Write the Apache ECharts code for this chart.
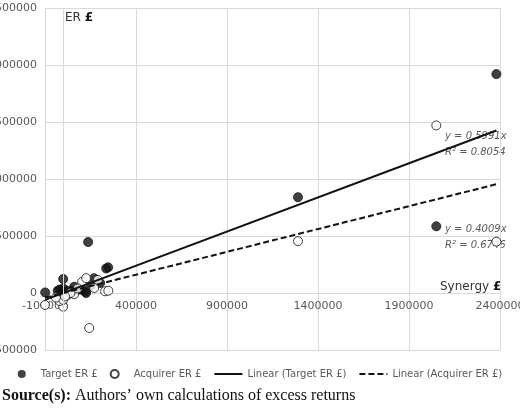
<!DOCTYPE html><html><head><meta charset="utf-8"><script src="https://cdn.jsdelivr.net/npm/echarts@6/dist/echarts.min.js"></script></head><body style="margin:0"><div id="c" style="width:520px;height:410px"></div><script>
const targetER=[[2380000,1920000],[1290000,840000],[2050000,585000],[137000,447000],[236000,215000],[247000,225000],[170000,130000],[0,123000],[-99000,5000],[203000,88000],[121000,10000],[126000,0],[-20000,30000],[0,40000],[20000,20000],[40000,10000],[60000,55000],[80000,30000],[10000,0],[30000,-10000],[-10000,10000],[50000,20000],[100000,30000],[-30000,20000],[150000,60000]];
const acquirerER=[[2050000,1470000],[1290000,455000],[2380000,450000],[143000,-307000],[-100000,-105000],[0,-120000],[-20000,-70000],[0,-60000],[104000,97000],[126000,130000],[230000,15000],[248000,20000],[170000,44000],[190000,115000],[60000,-10000],[20000,-20000],[-40000,-40000],[40000,0],[80000,40000],[10000,-30000]];
const slopes=[0.5991,0.4009];
const trendX=[-100000,2380000];
const xTicks=[-100000,2400000,500000];
const yTicks=[-500000,2500000,500000];
const c=echarts.init(document.getElementById('c'));
const g='#595959';
c.setOption({animation:false,
grid:{left:45,right:20,top:8,bottom:60,outerBoundsMode:'none',containLabel:false},
xAxis:{type:'value',min:xTicks[0],max:xTicks[1],interval:xTicks[2],offset:-57,axisLine:{onZero:false,lineStyle:{color:'#d9d9d9'}},axisTick:{show:false},axisLabel:{color:g,fontSize:11,fontFamily:'DejaVu Sans',margin:8,formatter:v=>String(v)},splitLine:{lineStyle:{color:'#d9d9d9'}}},
yAxis:{type:'value',min:yTicks[0],max:yTicks[1],interval:yTicks[2],axisLine:{show:false},axisTick:{show:false},axisLabel:{color:g,fontSize:11,fontFamily:'DejaVu Sans',formatter:v=>String(v)},splitLine:{lineStyle:{color:'#d9d9d9'}}},
legend:{bottom:26,itemWidth:28,itemHeight:8,itemGap:12,textStyle:{color:g,fontSize:10,fontFamily:'DejaVu Sans'},
data:[{name:'Target ER £',icon:'circle'},{name:'Acquirer ER £',icon:'circle'},{name:'Linear (Target ER £)',itemStyle:{opacity:0}},{name:'Linear (Acquirer ER £)',itemStyle:{opacity:0}}]},
series:[
{name:'Target ER £',type:'scatter',symbolSize:9,itemStyle:{color:'#111',borderColor:'#111'},data:targetER,
 markLine:{silent:true,symbol:'none',label:{show:false},lineStyle:{color:'#d9d9d9',type:'solid',width:1},data:[{xAxis:0}]}},
{name:'Acquirer ER £',type:'scatter',symbolSize:9,itemStyle:{color:'#fff',borderColor:'#111',borderWidth:1},data:acquirerER},
{name:'Linear (Target ER £)',type:'line',symbol:'none',lineStyle:{color:'#111',width:2},itemStyle:{color:'#111'},data:trendX.map(x=>[x,x*slopes[0]])},
{name:'Linear (Acquirer ER £)',type:'line',symbol:'none',lineStyle:{color:'#111',width:2,type:[6,3]},itemStyle:{color:'#111'},data:trendX.map(x=>[x,x*slopes[1]])}
],
graphic:[
{type:'text',left:65,top:12,style:{rich:{a:{fontSize:12,fill:'#333',fontFamily:'DejaVu Sans'},b:{fontSize:12,fill:'#111',fontWeight:'bold',fontFamily:'DejaVu Sans'}},text:'{a|ER }{b|£}'}},
{type:'text',left:440,top:281,style:{rich:{a:{fontSize:12,fill:'#333',fontFamily:'DejaVu Sans'},b:{fontSize:12,fill:'#111',fontWeight:'bold',fontFamily:'DejaVu Sans'}},text:'{a|Synergy }{b|£}'}},
{type:'text',left:445,top:131,style:{text:'y = 0.5991x',fontSize:10,fontStyle:'italic',fill:g,fontFamily:'DejaVu Sans'}},
{type:'text',left:445,top:147,style:{text:'R² = 0.8054',fontSize:10,fontStyle:'italic',fill:g,fontFamily:'DejaVu Sans'}},
{type:'text',left:445,top:224,style:{text:'y = 0.4009x',fontSize:10,fontStyle:'italic',fill:g,fontFamily:'DejaVu Sans'}},
{type:'text',left:445,top:240,style:{text:'R² = 0.6746',fontSize:10,fontStyle:'italic',fill:g,fontFamily:'DejaVu Sans'}},
{type:'text',left:2,top:388,style:{rich:{a:{fontSize:16,fontWeight:'bold',fill:'#111',fontFamily:'Liberation Serif'},b:{fontSize:16,fill:'#111',fontFamily:'Liberation Serif'}},text:'{a|Source(s):}{b| Authors’ own calculations of excess returns}'}}
]});
</script></body></html>
